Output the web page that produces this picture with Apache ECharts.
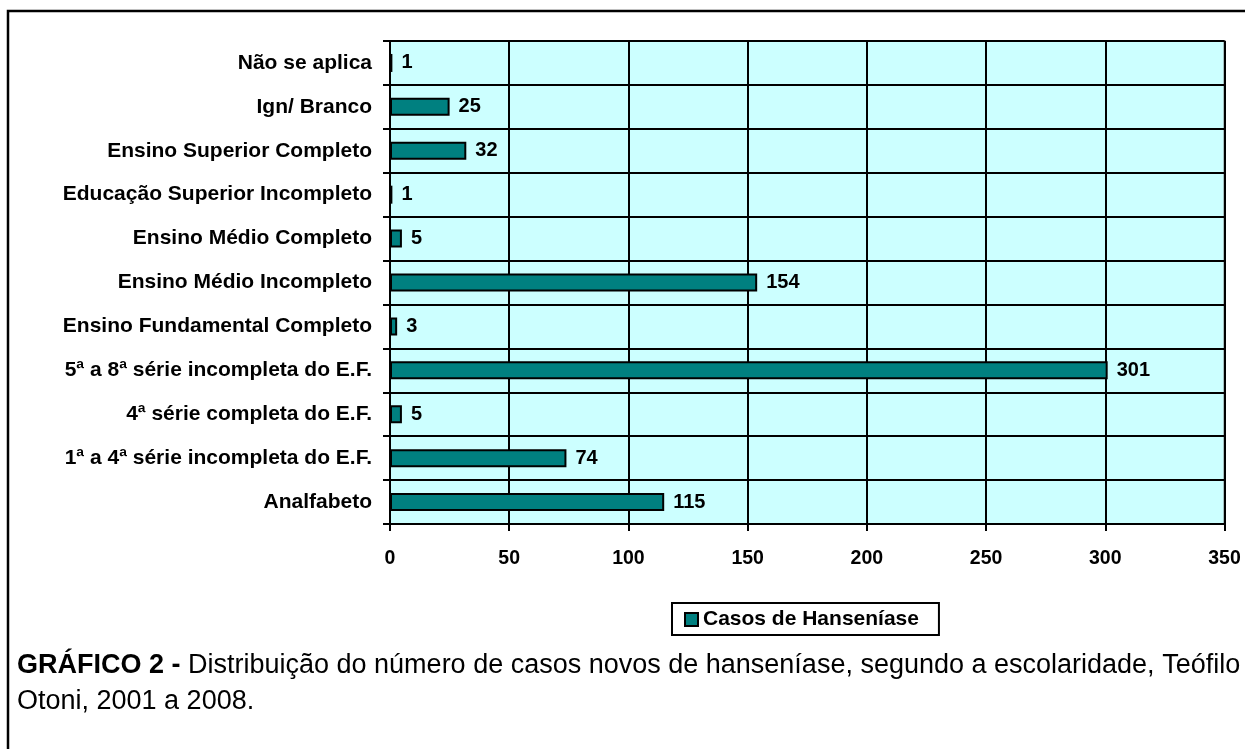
<!DOCTYPE html>
<html>
<head>
<meta charset="utf-8">
<script src="https://cdn.jsdelivr.net/npm/echarts@6/dist/echarts.min.js"></script>
<style>
  html, body { margin: 0; padding: 0; background: #fff; }
  #plot { width: 1245px; height: 749px; }
</style>
</head>
<body>
<div id="plot"></div>
<script>
// categorias de baixo para cima (eixo de categorias do ECharts começa embaixo)
const categorias = [
    'Analfabeto',
    '1ª a 4ª série incompleta do E.F.',
    '4ª série completa do E.F.',
    '5ª a 8ª série incompleta do E.F.',
    'Ensino Fundamental Completo',
    'Ensino Médio Incompleto',
    'Ensino Médio Completo',
    'Educação Superior Incompleto',
    'Ensino Superior Completo',
    'Ign/ Branco',
    'Não se aplica'
];
const casos = [115, 74, 5, 301, 3, 154, 5, 1, 32, 25, 1];
const serieNome = 'Casos de Hanseníase';
const xTicks = [0, 50, 100, 150, 200, 250, 300, 350];

const fonte = 'Arial, "Liberation Sans", sans-serif';

var myChart = echarts.init(document.getElementById('plot'));

var option = {
    animation: false,
    textStyle: { fontFamily: fonte },
    title: {
        left: 17,
        top: 648,
        padding: 0,
        text: '{b|GRÁFICO 2 -} Distribuição do número de casos novos de hanseníase, segundo a escolaridade, Teófilo\nOtoni, 2001 a 2008.',
        textStyle: {
            fontFamily: fonte,
            fontSize: 27,
            fontWeight: 'normal',
            color: '#000',
            lineHeight: 36,
            rich: {
                b: { fontFamily: fonte, fontSize: 27, fontWeight: 'bold', color: '#000', lineHeight: 36 }
            }
        }
    },
    legend: {
        data: [serieNome],
        left: 672,
        top: 603,
        padding: [6, 20, 5, 12],
        itemWidth: 13,
        itemHeight: 13,
        icon: 'rect',
        borderColor: '#000',
        borderWidth: 2,
        textStyle: { fontFamily: fonte, fontSize: 21, fontWeight: 'bold', color: '#000' }
    },
    graphic: [{
        type: 'rect',
        shape: { x: 8, y: 11, width: 1300, height: 800 },
        style: { fill: 'none', stroke: '#000', lineWidth: 2.5 },
        silent: true
    }],
    grid: {
        left: 390,
        top: 41,
        right: 20.5,
        bottom: 225,
        show: true,
        backgroundColor: '#CCFFFF',
        borderColor: '#808080',
        borderWidth: 2
    },
    xAxis: {
        type: 'value',
        min: 0,
        max: 350,
        interval: 50,
        axisLine: { show: true, lineStyle: { color: '#000', width: 2 } },
        axisTick: { show: true, length: 7, lineStyle: { color: '#000', width: 2 } },
        axisLabel: {
            margin: 25,
            fontFamily: fonte, fontSize: 19.5, fontWeight: 'bold', color: '#000',
            formatter: function (v) { return xTicks.indexOf(v) >= 0 ? String(v) : ''; }
        },
        splitLine: { show: true, lineStyle: { color: '#000', width: 2 } }
    },
    yAxis: {
        type: 'category',
        data: categorias,
        axisLine: { show: true, lineStyle: { color: '#000', width: 2 } },
        axisTick: { show: true, length: 7, lineStyle: { color: '#000', width: 2 } },
        axisLabel: {
            margin: 18,
            fontFamily: fonte, fontSize: 21, fontWeight: 'bold', color: '#000'
        },
        splitLine: { show: true, lineStyle: { color: '#000', width: 2 } }
    },
    series: [{
        name: serieNome,
        type: 'bar',
        data: casos,
        barWidth: 18,
        itemStyle: {
            color: '#008080',
            borderColor: '#000',
            borderWidth: 2
        },
        label: {
            show: true,
            position: 'right',
            distance: 9,
            fontFamily: fonte,
            fontSize: 20,
            fontWeight: 'bold',
            color: '#000'
        }
    }]
};

myChart.setOption(option);
</script>
</body>
</html>
